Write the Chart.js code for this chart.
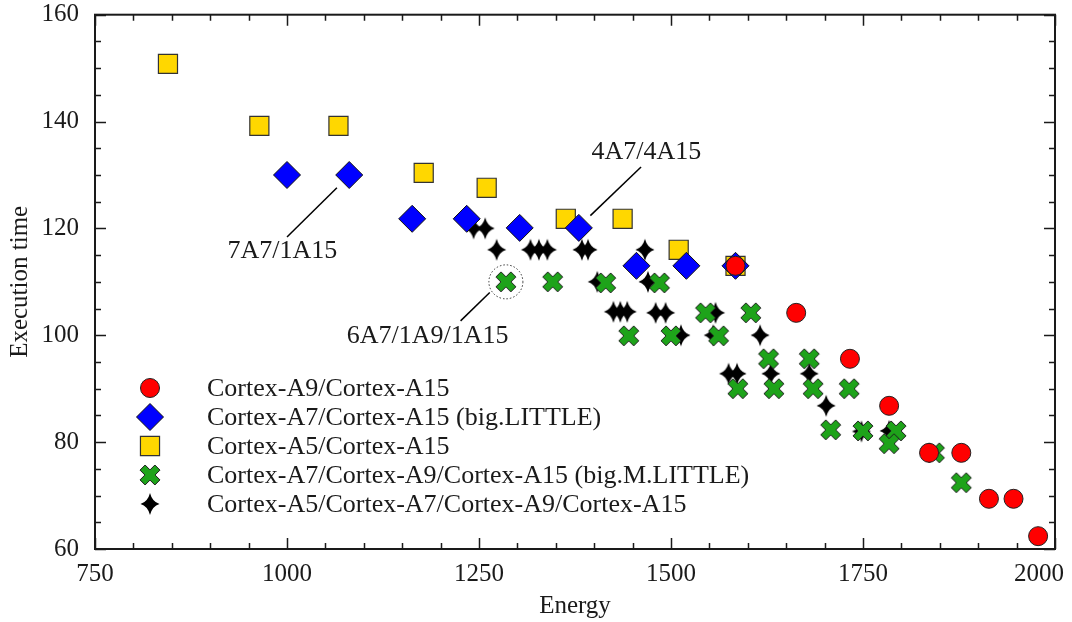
<!DOCTYPE html>
<html>
<head>
<meta charset="utf-8">
<script src="https://cdn.jsdelivr.net/npm/chart.js@4.4.0/dist/chart.umd.min.js"></script>
<style>
  html, body { margin: 0; padding: 0; background: #fff; }
</style>
</head>
<body>
<canvas id="myChart" width="1072" height="622"></canvas>
<script>
// data (energy, execution time)
const a9a15Energy = [1584, 1663, 1733, 1784, 1836, 1878, 1914, 1946, 1978];
const a9a15Time   = [113, 104.2, 95.6, 86.8, 78, 78, 69.4, 69.4, 62.4];

const a7a15Energy = [1000, 1081, 1163, 1234, 1303, 1380, 1455, 1520, 1584];
const a7a15Time   = [130, 130, 121.8, 121.8, 120.1, 120.1, 113, 113, 113];

const a5a15Energy = [845, 964, 1067, 1178, 1260, 1363, 1437, 1510, 1584];
const a5a15Time   = [150.8, 139.2, 139.2, 130.4, 127.6, 121.8, 121.8, 116, 113];

const a7a9a15Energy = [1285, 1346, 1415, 1485, 1445, 1500, 1545, 1604, 1562, 1627, 1680,
                       1587, 1634, 1685, 1732, 1708, 1750, 1793, 1784, 1843, 1878];
const a7a9a15Time   = [110, 110, 109.8, 109.8, 99.9, 99.9, 104.2, 104.2, 99.9, 95.6, 95.6,
                       90, 90, 90, 90, 82.3, 82.1, 82.1, 79.7, 78, 72.4];

const allEnergy = [1243, 1258, 1273, 1317, 1328, 1339, 1384, 1392, 1466, 1404, 1470,
                   1425, 1434, 1443, 1480, 1493, 1558, 1513, 1555, 1616,
                   1575, 1586, 1630, 1680, 1702, 1748, 1784];
const allTime   = [120, 120, 116, 116, 116, 116, 116, 116, 116, 110, 110,
                   104.4, 104.4, 104.4, 104.2, 104.2, 104.2, 100, 100, 100,
                   92.8, 92.8, 92.8, 92.8, 86.8, 82, 82.1];

const seriesLabels = [
  'Cortex-A9/Cortex-A15',
  'Cortex-A7/Cortex-A15 (big.LITTLE)',
  'Cortex-A5/Cortex-A15',
  'Cortex-A7/Cortex-A9/Cortex-A15 (big.M.LITTLE)',
  'Cortex-A5/Cortex-A7/Cortex-A9/Cortex-A15'
];

const xTicks = [750, 1000, 1250, 1500, 1750, 2000];
const yTicks = [60, 80, 100, 120, 140, 160];

// callouts: label centre, line start, line end (data units)
const callouts = [
  { text: '7A7/1A15', at: [994, 115.8], from: [1000, 118.4], to: [1065, 127.6] },
  { text: '6A7/1A9/1A15', at: [1183, 99.9], from: [1226, 102.7], to: [1264, 108] },
  { text: '4A7/4A15', at: [1468, 134.2], from: [1461, 131.5], to: [1395, 122.4] }
];
const circled = [1285, 110];

const FONT = 'Liberation Serif, Times New Roman, serif';

function pairs(xs, ys) {
  return xs.map((v, i) => ({ x: v, y: ys[i] }));
}

// thick green X with dark outline
function makeCross() {
  const c = document.createElement('canvas');
  c.width = 24; c.height = 24;
  const g = c.getContext('2d');
  const L = 10.5, t = 3.6;
  const pts = [[-t,-L],[t,-L],[t,-t],[L,-t],[L,t],[t,t],[t,L],[-t,L],[-t,t],[-L,t],[-L,-t],[-t,-t]];
  const cs = Math.SQRT1_2;
  g.beginPath();
  pts.forEach(([px, py], i) => {
    const rx = 12 + (px - py) * cs, ry = 12 + (px + py) * cs;
    if (i === 0) g.moveTo(rx, ry); else g.lineTo(rx, ry);
  });
  g.closePath();
  g.fillStyle = '#1ea31a';
  g.fill();
  g.lineWidth = 1;
  g.strokeStyle = '#1b1b1b';
  g.stroke();
  return c;
}

// black four-pointed star
function makeStar() {
  const c = document.createElement('canvas');
  c.width = 22; c.height = 24;
  const g = c.getContext('2d');
  const cx = 11, cy = 12, rx = 9.5, ry = 11, k = 2.2;
  g.beginPath();
  g.moveTo(cx, cy - ry);
  g.quadraticCurveTo(cx + k, cy - k, cx + rx, cy);
  g.quadraticCurveTo(cx + k, cy + k, cx, cy + ry);
  g.quadraticCurveTo(cx - k, cy + k, cx - rx, cy);
  g.quadraticCurveTo(cx - k, cy - k, cx, cy - ry);
  g.closePath();
  g.fillStyle = '#000';
  g.fill();
  return c;
}

const crossImg = makeCross();
const starImg = makeStar();

const frame = {
  id: 'frame',
  beforeDraw(chart) {
    // keep the last x label inside the canvas, as in the figure
    const items = chart.scales.x.getLabelItems();
    const last = items[items.length - 1];
    if (last && !last._shifted) {
      last.options.translation[0] -= 16;
      last._shifted = true;
    }
  },
  afterDatasetsDraw(chart) {
    const { ctx, chartArea: a, scales: { x, y } } = chart;
    ctx.save();
    ctx.strokeStyle = '#1a1a1a';
    ctx.lineWidth = 1.5;
    ctx.beginPath();
    for (let v = 750; v <= 2000; v += 50) {
      const px = Math.round(x.getPixelForValue(v)) + 0.5;
      const len = v % 250 === 0 ? 11 : 6;
      ctx.moveTo(px, a.bottom); ctx.lineTo(px, a.bottom - len);
      ctx.moveTo(px, a.top); ctx.lineTo(px, a.top + len);
    }
    for (let v = 60; v <= 160; v += 5) {
      const py = Math.round(y.getPixelForValue(v)) + 0.5;
      const len = v % 20 === 0 ? 11 : 6;
      ctx.moveTo(a.left, py); ctx.lineTo(a.left + len, py);
      ctx.moveTo(a.right, py); ctx.lineTo(a.right - len, py);
    }
    ctx.stroke();
    ctx.lineWidth = 2;
    ctx.strokeRect(a.left, a.top, a.right - a.left, a.bottom - a.top);

    // callouts
    ctx.lineWidth = 1.5;
    ctx.strokeStyle = '#000';
    ctx.fillStyle = '#1a1a1a';
    ctx.font = '26px ' + FONT;
    ctx.textAlign = 'center';
    ctx.textBaseline = 'middle';
    callouts.forEach(cl => {
      ctx.beginPath();
      ctx.moveTo(x.getPixelForValue(cl.from[0]), y.getPixelForValue(cl.from[1]));
      ctx.lineTo(x.getPixelForValue(cl.to[0]), y.getPixelForValue(cl.to[1]));
      ctx.stroke();
      ctx.fillText(cl.text, x.getPixelForValue(cl.at[0]), y.getPixelForValue(cl.at[1]));
    });
    ctx.beginPath();
    ctx.setLineDash([1.5, 2]);
    ctx.lineWidth = 1;
    ctx.strokeStyle = '#333';
    ctx.arc(x.getPixelForValue(circled[0]), y.getPixelForValue(circled[1]), 17, 0, Math.PI * 2);
    ctx.stroke();
    ctx.setLineDash([]);

    // legend inside the plot
    const lx = 150, ly = 388, rowH = 29, tx = 207;
    ctx.textAlign = 'left';
    chart.data.datasets.forEach((ds, i) => {
      const yy = ly + i * rowH;
      ctx.fillStyle = ds.backgroundColor;
      ctx.strokeStyle = ds.borderColor;
      ctx.lineWidth = ds.borderWidth;
      Chart.helpers.drawPoint(ctx, {
        pointStyle: ds.pointStyle, radius: ds.pointRadius, rotation: 0, borderWidth: ds.borderWidth
      }, lx, yy);
      ctx.fillStyle = '#1a1a1a';
      ctx.fillText(ds.label, tx, yy + 1);
    });
    ctx.restore();
  }
};

const noPad = s => { s.paddingTop = 0; s.paddingBottom = 0; s.paddingLeft = 0; s.paddingRight = 0; };

const myChartRef = document.getElementById('myChart').getContext('2d');

new Chart(myChartRef, {
  type: 'scatter',
  data: {
    datasets: [
      { label: seriesLabels[0], data: pairs(a9a15Energy, a9a15Time), pointStyle: 'circle',
        pointRadius: 9.5, backgroundColor: '#ff0000', borderColor: '#222', borderWidth: 1 },
      { label: seriesLabels[1], data: pairs(a7a15Energy, a7a15Time), pointStyle: 'rectRot',
        pointRadius: 13.5, backgroundColor: '#0000ff', borderColor: '#111', borderWidth: 1 },
      { label: seriesLabels[2], data: pairs(a5a15Energy, a5a15Time), pointStyle: 'rect',
        pointRadius: 13.5, backgroundColor: '#ffd700', borderColor: '#333', borderWidth: 1.2 },
      { label: seriesLabels[3], data: pairs(a7a9a15Energy, a7a9a15Time), pointStyle: crossImg,
        pointRadius: 10, backgroundColor: '#1ea31a', borderColor: '#1b1b1b', borderWidth: 0 },
      { label: seriesLabels[4], data: pairs(allEnergy, allTime), pointStyle: starImg,
        pointRadius: 10, backgroundColor: '#000', borderColor: '#000', borderWidth: 0 }
    ]
  },
  plugins: [frame],
  options: {
    responsive: false,
    animation: false,
    layout: { padding: { top: 14, right: 17, left: 0, bottom: 0 } },
    plugins: { legend: { display: false }, tooltip: { enabled: false } },
    scales: {
      x: {
        type: 'linear', min: 750, max: 2000,
        afterBuildTicks: s => { s.ticks = xTicks.map(v => ({ value: v })); },
        afterFit: s => { s.height = 73; noPad(s); },
        grid: { display: false }, border: { display: false },
        ticks: { color: '#1a1a1a', padding: 2, font: { family: FONT, size: 25 },
                 callback: v => String(v) },
        title: { display: true, text: 'Energy', color: '#1a1a1a', padding: { top: 0, bottom: 1 },
                 font: { family: FONT, size: 25 } }
      },
      y: {
        type: 'linear', min: 60, max: 160,
        afterBuildTicks: s => { s.ticks = yTicks.map(v => ({ value: v })); },
        afterFit: s => { s.width = 95; noPad(s); },
        grid: { display: false }, border: { display: false },
        ticks: { color: '#1a1a1a', padding: 8, font: { family: FONT, size: 25 },
                 callback: v => String(v) },
        title: { display: true, text: 'Execution time', color: '#1a1a1a', padding: { top: 5, bottom: 0 },
                 font: { family: FONT, size: 25 } }
      }
    }
  }
});
</script>
</body>
</html>
